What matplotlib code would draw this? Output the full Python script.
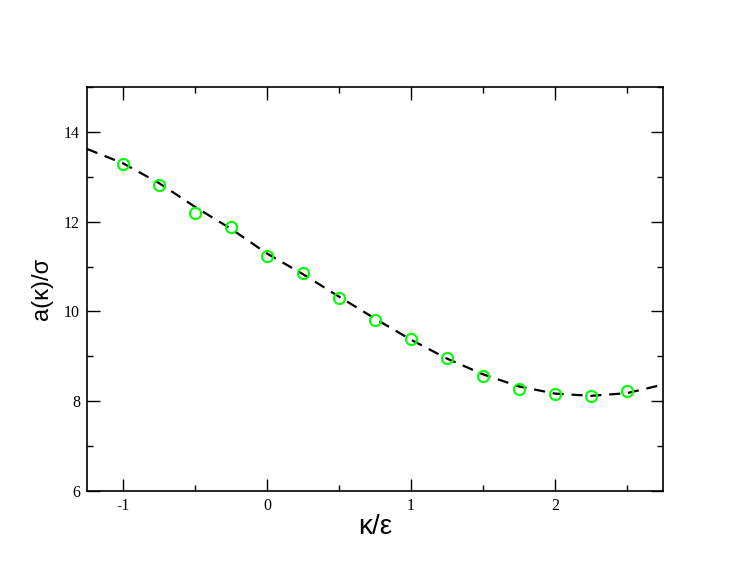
import matplotlib
matplotlib.use("Agg")
import matplotlib.pyplot as plt
from matplotlib.ticker import MultipleLocator

plt.rcParams['axes.unicode_minus'] = False

# data points (kappa/epsilon, a/sigma)
kappa = [-1.0, -0.75, -0.5, -0.25, 0.0, 0.25, 0.5, 0.75, 1.0, 1.25, 1.5, 1.75, 2.0, 2.25, 2.5]
a_sim = [13.29, 12.82, 12.19, 11.87, 11.24, 10.86, 10.29, 9.82, 9.39, 8.97, 8.56, 8.27, 8.16, 8.12, 8.23]

# dashed curve
kappa_fit = [-1.25, -1.0, -0.75, -0.5, -0.25, 0.0, 0.25, 0.5, 0.75, 1.0, 1.25, 1.5, 1.75, 2.0, 2.25, 2.5, 2.75]
a_fit = [13.62, 13.30, 12.86, 12.33, 11.84, 11.29, 10.83, 10.33, 9.84, 9.37, 8.95, 8.60, 8.33, 8.17, 8.12, 8.18, 8.37]

fig = plt.figure(figsize=(7.47, 5.78), dpi=100)
ax = fig.add_axes([0.1165, 0.1505, 0.771, 0.699])

ax.plot(kappa_fit, a_fit, color='black', lw=1.6, dashes=(5, 3.5))
ax.plot(kappa, a_sim, 'o', mfc='none', mec='#00ff00', mew=1.5, ms=8)

ax.set_xlim(-1.25, 2.75)
ax.set_ylim(6, 15)
ax.xaxis.set_major_locator(MultipleLocator(1))
ax.xaxis.set_minor_locator(MultipleLocator(0.5))
ax.yaxis.set_major_locator(MultipleLocator(2))
ax.yaxis.set_minor_locator(MultipleLocator(1))
ax.tick_params(which='both', direction='in', top=True, right=True, width=1)
ax.tick_params(which='major', length=9, pad=5)
ax.tick_params(which='minor', length=4.5)
for lab in ax.get_xticklabels() + ax.get_yticklabels():
    lab.set_fontfamily('Liberation Serif')
    lab.set_fontsize(11.5)
for s in ax.spines.values():
    s.set_linewidth(1.2)

ax.set_xlabel('κ/ε', fontsize=20, family='Liberation Sans', labelpad=0)
ax.set_ylabel('a(κ)/σ', fontsize=17, family='Liberation Sans', labelpad=8)

fig.savefig('out.png', dpi=100)
